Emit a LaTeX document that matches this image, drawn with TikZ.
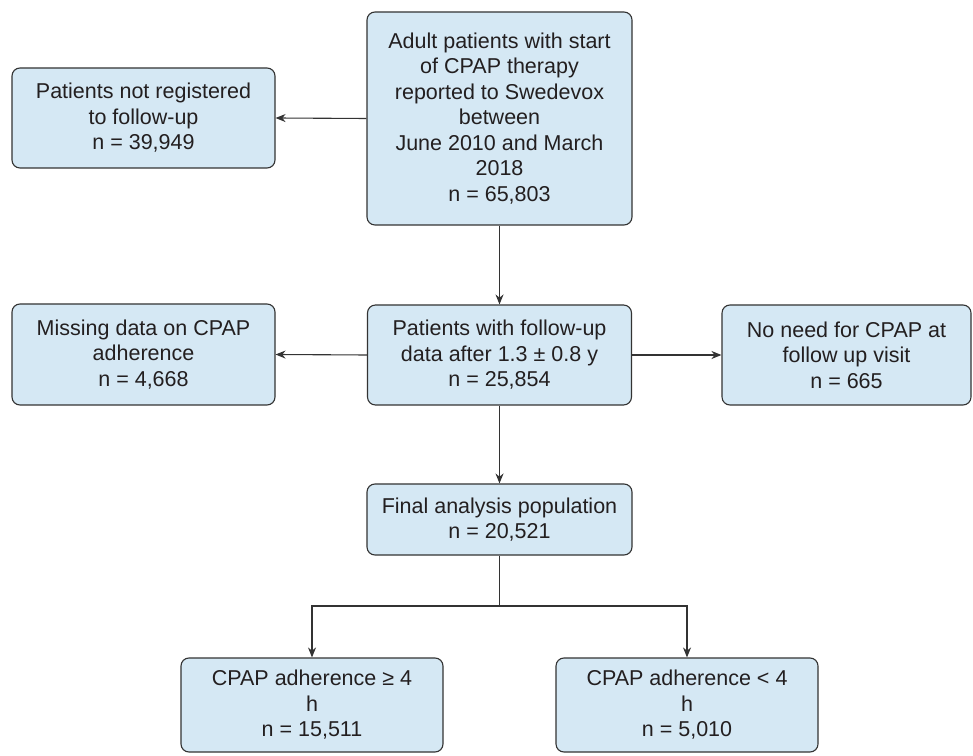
\documentclass[tikz,border=0pt]{standalone}
\usepackage{fontspec}
\setmainfont{Liberation Sans}
\usepackage{tikz}
\usetikzlibrary{arrows.meta,positioning,calc}
\definecolor{boxfill}{HTML}{D5E8F4}
\definecolor{edge}{HTML}{333333}
\definecolor{ink}{HTML}{231F20}
\tikzset{
  >={Stealth[length=10pt,width=8pt]},
  box/.style={draw=edge,fill=boxfill,rounded corners=8pt,line width=1.1pt,inner sep=0pt,align=center,
    text=ink,font=\fontsize{21.5}{25.5}\selectfont},
  arr/.style={->,draw=edge,line width=1.1pt},
  lin/.style={draw=edge,line width=1.1pt},
}
\begin{document}
\begin{tikzpicture}[x=1pt,y=1pt]
\useasboundingbox (0,0) rectangle (973,755);
\node[box,minimum width=265pt,minimum height=213pt] (start) at (499.5,636.5) {Adult patients with start\\of CPAP therapy\\reported to Swedevox\\between\\June 2010 and March\\2018\\n = 65,803};
\node[box,minimum width=263pt,minimum height=100pt] (notreg) at (143.5,637) {Patients not registered\\to follow-up\\n = 39,949};
\node[box,minimum width=264pt,minimum height=100pt] (follow) at (499.5,400) {Patients with follow-up\\data after 1.3 ± 0.8 y\\n = 25,854};
\node[box,minimum width=263pt,minimum height=101pt] (missing) at (143.5,400.5) {Missing data on CPAP\\adherence\\n = 4,668};
\node[box,minimum width=249pt,minimum height=100pt] (noneed) at (846.5,400) {No need for CPAP at\\follow up visit\\n = 665};
\node[box,minimum width=265pt,minimum height=71pt] (final) at (499.5,235.5) {Final analysis population\\n = 20,521};
\node[box,minimum width=262pt,minimum height=94pt] (high) at (312,50) {CPAP adherence ≥ 4\\h\\n = 15,511};
\node[box,minimum width=262pt,minimum height=94pt] (low) at (687,50) {CPAP adherence < 4\\h\\n = 5,010};
\coordinate (split) at (499.5,149);
% connectors
\draw[arr] (start.west) -- (notreg.east);
\draw[arr] (start.south) -- (follow.north);
\draw[arr] (follow.west) -- (missing.east);
\draw[arr] (follow.east) -- (noneed.west);
\draw[arr] (follow.south) -- (final.north);
\draw[lin] (final.south) -- (split);
\draw[arr] (split) -| (high.north);
\draw[arr] (split) -| (low.north);
\end{tikzpicture}
\end{document}
